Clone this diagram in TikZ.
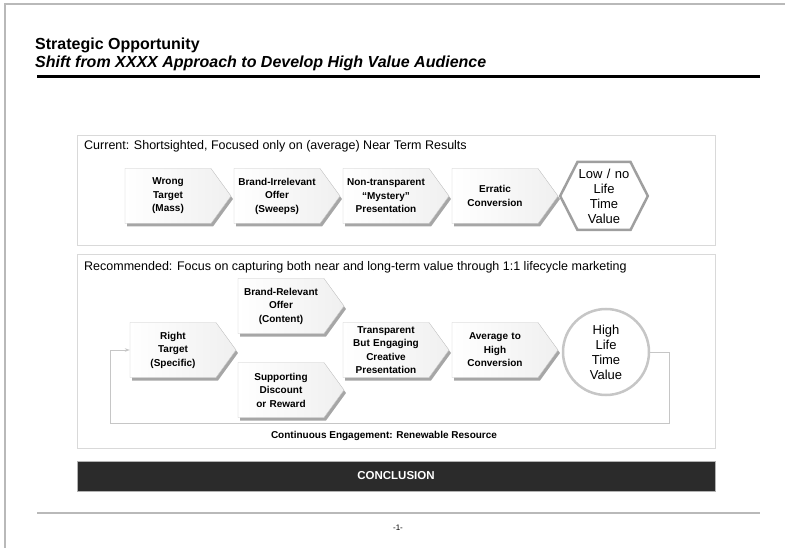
\documentclass[tikz,border=0pt]{standalone}
\usepackage{fontspec}
\setmainfont{Liberation Sans}
\usetikzlibrary{arrows.meta,positioning,shapes.symbols,shadows}

\begin{document}
\begin{tikzpicture}[x=1pt, y=-1pt, >=Stealth,
  chev/.style={shape=signal, signal to=east, signal pointer angle=108, draw=gray!45, left color=white, right color=gray!12,
    text width=78pt, inner xsep=4pt, inner ysep=0pt, minimum height=55pt, align=center,
    font=\fontsize{10}{13.5}\selectfont\bfseries,
    drop shadow={shadow xshift=2pt, shadow yshift=-3pt, fill=gray!70, opacity=1}},
  panel/.style={draw=gray!30, line width=0.8pt},
  paneltxt/.style={anchor=west, inner sep=0pt, font=\fontsize{12.5}{14}\selectfont},
  ltv/.style={align=center, fill=white, line width=2.5pt, inner sep=0pt, font=\fontsize{13}{15}\selectfont}]
  \useasboundingbox (0,0) rectangle (785,548);
  % page edge and heading
  \draw[gray!55, line width=1.5pt] (5,548) -- (5,4) -- (785,4);
  \node[anchor=west, inner sep=0pt, font=\fontsize{16}{18}\selectfont\bfseries] (ttl) at (35,45) {Strategic Opportunity};
  \node[anchor=west, inner sep=0pt, font=\fontsize{16}{18}\selectfont\bfseries\itshape] (sub) at (35,63) {Shift from XXXX Approach to Develop High Value Audience};
  \draw[line width=3pt] (37,77) -- (760,77);

  % current
  \draw[panel] (77,135) rectangle (715,245);
  \node[paneltxt] (curtxt) at (84,146) {Current: Shortsighted, Focused only on (average) Near Term Results};
  \node[chev] (wrong) at (168,196) {Wrong\\Target\\(Mass)};
  \node[chev] (irrel) at (277,196) {Brand-Irrelevant\\Offer\\(Sweeps)};
  \node[chev] (mystery) at (386,196) {Non-transparent\\``Mystery''\\Presentation};
  \node[chev] (erratic) at (495,196) {Erratic\\Conversion};
  \node[ltv, shape=signal, signal to=east and west, signal pointer angle=126, draw=gray!75, text width=53pt, minimum height=68pt] (lowltv) at (604,196) {Low / no\\Life\\Time\\Value};

  % recommended
  \draw[panel] (77,254) rectangle (715,448);
  \node[paneltxt] (rectxt) at (84,267) {Recommended: Focus on capturing both near and long-term value through 1:1 lifecycle marketing};
  \node[chev] (right) at (173,350) {Right\\Target\\(Specific)};
  \node[chev] (relev) at (281,306) {Brand-Relevant\\Offer\\(Content)};
  \node[chev] (supp) at (281,390) {Supporting\\Discount\\or Reward};
  \node[chev] (transp) at (386,350) {Transparent\\But Engaging\\Creative\\Presentation};
  \node[chev] (avg) at (495,350) {Average to\\High\\Conversion};
  \node[ltv, circle, draw=gray!45, minimum size=86pt] (highltv) at (606,352) {High\\Life\\Time\\Value};
  \draw[gray!45, line width=0.8pt, -{Stealth[length=5pt,width=3.5pt]}] (highltv.east) -- ++(19,0) -- ++(0,71) -| ([xshift=-19pt]right.west) -- (right.west);
  \node[font=\fontsize{10}{12}\selectfont\bfseries] (renew) at (384,436) {Continuous Engagement: Renewable Resource};

  % conclusion and footer
  \node[draw=gray!60, fill=black!83, minimum width=638pt, minimum height=30pt, text=white, font=\fontsize{11.5}{13}\selectfont\bfseries] (concl) at (396,476) {CONCLUSION};
  \draw[gray!55, line width=2pt] (37,513) -- (760,513);
  \node[font=\fontsize{8}{10}\selectfont] (pgno) at (398,528) {-1-};
\end{tikzpicture}
\end{document}
